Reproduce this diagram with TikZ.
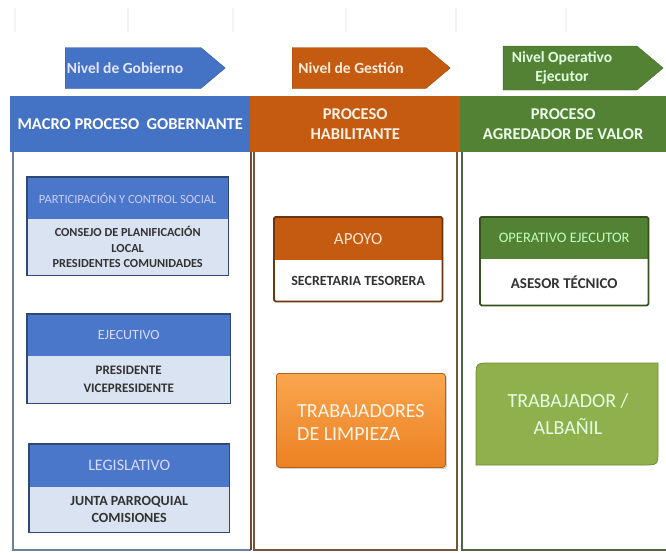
\documentclass[tikz,border=0pt]{standalone}
\usepackage{fontspec}
\setmainfont{Carlito}
\usetikzlibrary{shapes.symbols,shadows}
\definecolor{cblue}{HTML}{4472C4}
\definecolor{cblueb}{HTML}{4A77C9}
\definecolor{clight}{HTML}{DAE3F1}
\definecolor{cborderb}{HTML}{2E4A73}
\definecolor{corange}{HTML}{C55A11}
\definecolor{cbrown}{HTML}{6E3510}
\definecolor{cgreen}{HTML}{548235}
\definecolor{cdgreen}{HTML}{34511F}
\definecolor{corl}{HTML}{F9A64F}
\definecolor{cord}{HTML}{EC8123}
\definecolor{clgreen}{HTML}{8FB04C}
\definecolor{clgreenb}{HTML}{6E8E35}
\definecolor{ctext}{HTML}{333333}
\newcommand{\fsz}[2]{\fontsize{#1}{#2}\selectfont}
\begin{document}
\begin{tikzpicture}[x=1pt,y=-1pt,
  lvl/.style={signal, signal to=east, signal pointer angle=80, minimum height=41pt, inner sep=0pt, align=center, text=white, font=\bfseries\fsz{15.5}{19}},
  hdr/.style={anchor=north west, minimum height=56pt, inner sep=0pt, align=center, text=white, font=\bfseries\fsz{16.5}{19.5}},
  bhead/.style={anchor=north west, inner sep=0pt, align=center, font=\bfseries\fsz{13}{15}},
  bbody/.style={anchor=north west, inner sep=0pt, align=center, text=ctext, font=\bfseries\fsz{13}{17}},
  tick/.style={draw=gray!9, line width=1.2pt}
]
\useasboundingbox[fill=white] (0,0) rectangle (666,552);
% faint ticks
\foreach \x in {15,128,233,346,456,566} \draw[tick] (\x,8) -- (\x,32);
% level arrows
\node[lvl, fill=cblue, draw=cblue!80!black, minimum width=160pt, text=white!90!blue] (l1) at (133,68) {\hspace*{-16pt}Nivel de Gobierno};
\node[lvl, fill=corange, draw=corange!80!black, minimum width=158pt, text=orange!15] (l2) at (359,68) {\hspace*{-16pt}Nivel de Gestión};
\node[lvl, fill=cgreen, draw=cgreen!80!black, minimum width=160pt, minimum height=44pt, text=green!12] (l3) at (570,68) {\hspace*{-16pt}Nivel Operativo\\\hspace*{-16pt}Ejecutor};
% header band
\node[hdr, fill=cblue, minimum width=240pt] (h1) at (10,96) {MACRO PROCESO\ \ GOBERNANTE};
\node[hdr, fill=corange, minimum width=210pt, text=orange!10] (h2) at (250,96) {PROCESO\\HABILITANTE};
\node[hdr, fill=cgreen, minimum width=206pt, text=green!8] (h3) at (460,96) {PROCESO\\AGREDADOR DE VALOR};
% column bodies
\draw[draw=cborderb!70, line width=1.6pt] (13,152) -- (13,550) -- (251,550);
\draw[draw=cbrown!70!gray, line width=1.6pt] (251,152) -- (251,550);
\draw[draw=cbrown!60!gray, line width=1.6pt] (254,152) -- (254,550) -- (457,550) -- (457,152);
\draw[draw=cdgreen!60!gray, line width=1.6pt] (462,152) -- (462,550) -- (666,550);
% left boxes
\node[bhead, fill=cblueb, minimum width=201pt, minimum height=42pt, text=white!80!blue, font=\fsz{12.5}{14}] (p1) at (27,177) {PARTICIPACIÓN Y CONTROL SOCIAL};
\node[bbody, fill=clight, minimum width=201pt, minimum height=56pt, font=\bfseries\fsz{12.3}{15.5}] (p2) at (27,219) {CONSEJO DE PLANIFICACIÓN\\LOCAL\\PRESIDENTES COMUNIDADES};
\draw[cborderb, line width=1.4pt] (p1.north west) rectangle (p2.south east);
\node[bhead, fill=cblueb, minimum width=203pt, minimum height=42pt, text=white!85!blue, font=\fsz{14}{16}] (e1) at (27,314) {EJECUTIVO};
\node[bbody, fill=clight, minimum width=203pt, minimum height=47pt, font=\bfseries\fsz{13}{18}] (e2) at (27,356) {PRESIDENTE\\VICEPRESIDENTE};
\draw[cborderb, line width=1.4pt] (e1.north west) rectangle (e2.south east);
\node[bhead, fill=cblueb, minimum width=200pt, minimum height=43pt, text=white!85!blue, font=\fsz{16}{18}] (g1) at (29,444) {LEGISLATIVO};
\node[bbody, fill=clight, minimum width=200pt, minimum height=45pt, font=\bfseries\fsz{14}{17}] (g2) at (29,487) {JUNTA PARROQUIAL\\COMISIONES};
\draw[cborderb, line width=1.4pt] (g1.north west) rectangle (g2.south east);
% middle boxes
\node[bhead, fill=corange, minimum width=168pt, minimum height=43pt, text=orange!20, font=\fsz{17}{19}] (a1) at (274,217) {APOYO};
\node[bbody, fill=white, minimum width=168pt, minimum height=41pt, font=\bfseries\fsz{14}{16}] (a2) at (274,260) {SECRETARIA TESORERA};
\draw[cbrown, line width=1.8pt, rounded corners=1.5pt] (a1.north west) rectangle (a2.south east);
\node[anchor=north west, minimum width=169pt, minimum height=94pt, rounded corners=3pt, top color=corl, bottom color=cord, draw=cord!75!black, line width=0.8pt, drop shadow={opacity=0.35, shadow xshift=1.5pt, shadow yshift=-1.5pt}] (t1) at (276,373) {};
\node[anchor=west, align=left, text=orange!8!white, inner sep=0pt, font=\fsz{20}{23}] (t2) at (297,423) {TRABAJADORES\\DE LIMPIEZA};
% right boxes
\node[bhead, fill=cgreen, minimum width=168pt, minimum height=42pt, text=green!25!white, font=\fsz{14.5}{16}] (o1) at (480,217) {OPERATIVO EJECUTOR};
\node[bbody, fill=white, minimum width=168pt, minimum height=46pt, font=\bfseries\fsz{15}{17}] (o2) at (480,259) {ASESOR TÉCNICO};
\draw[cdgreen, line width=1.8pt, rounded corners=1.5pt] (o1.north west) rectangle (o2.south east);
\draw[fill=clgreen, draw=clgreenb, line width=0.8pt] (476,378) .. controls (476,363) .. (491,363) -- (658,363) -- (658,450) .. controls (658,465) .. (643,465) -- (476,465) -- cycle;
\node[align=center, text=green!10!white, inner sep=0pt, font=\fsz{20}{27}] (w1) at (568,414) {TRABAJADOR /\\ALBAÑIL};
\end{tikzpicture}
\end{document}
